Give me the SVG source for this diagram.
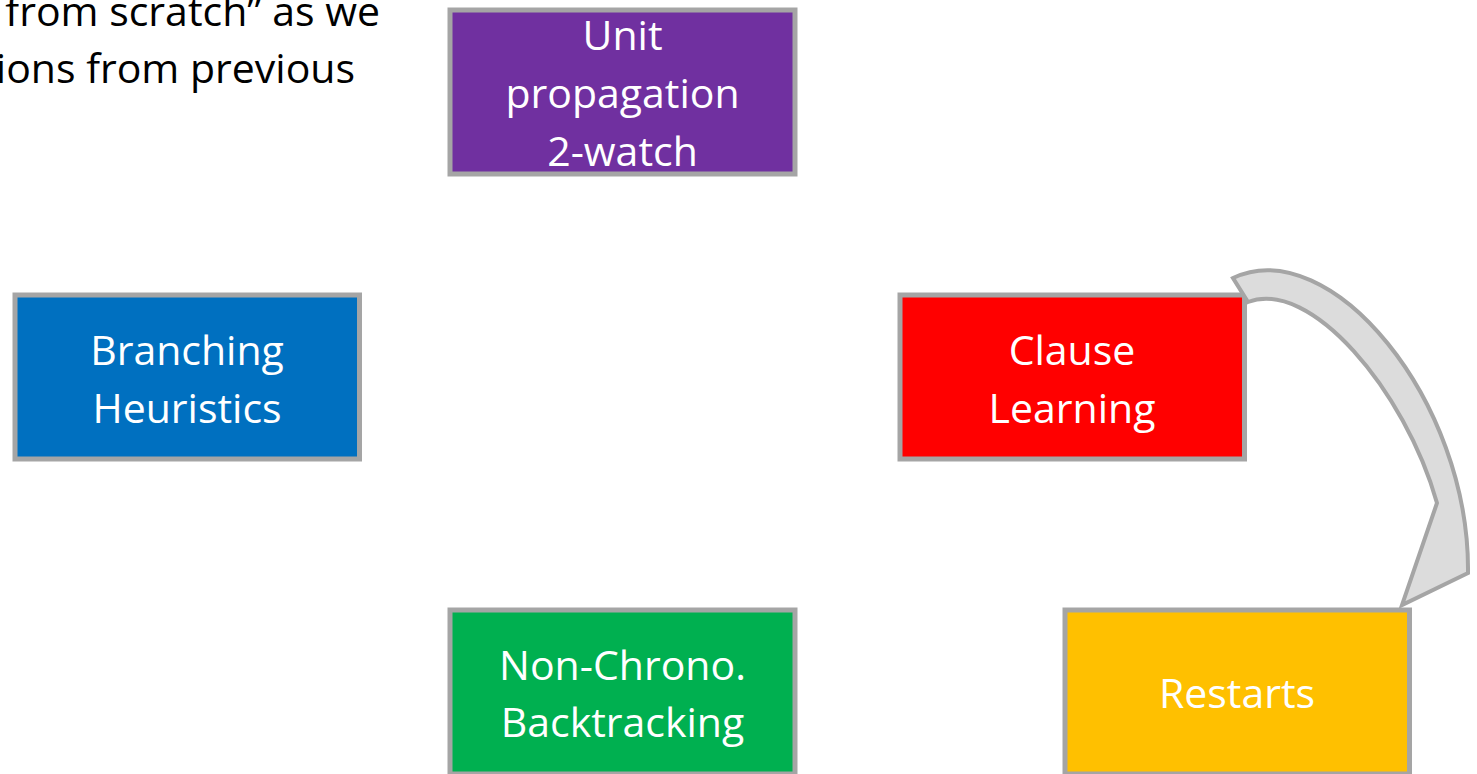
<svg xmlns="http://www.w3.org/2000/svg" width="1477" height="774" viewBox="0 0 1477 774">
  <style>
    .box { stroke: #A5A5A5; stroke-width: 5; }
    .lbl { font-family: "Open Sans", "Liberation Sans", sans-serif; font-size: 41px; fill: #FFFFFF; text-anchor: middle; }
    .body { font-family: "Open Sans", "Liberation Sans", sans-serif; font-size: 41px; fill: #000000; text-anchor: end; }
    .curved { fill: #DCDCDC; stroke: #A5A5A5; stroke-width: 4; stroke-linejoin: miter; }
  </style>
  <rect width="1477" height="774" fill="#FFFFFF"/>

  <!-- slide body text, partly outside the visible area -->
  <g id="body-text">
    <text class="body" x="380" y="26">from scratch” as we</text>
    <text class="body" x="355" y="83">ions from previous</text>
  </g>

  <g id="unit-propagation">
    <rect class="box" x="450" y="10" width="345" height="164" fill="#7030A0"/>
    <text class="lbl" x="622.5" y="50">Unit</text>
    <text class="lbl" x="622.5" y="108">propagation</text>
    <text class="lbl" x="622.5" y="166">2-watch</text>
  </g>

  <g id="branching-heuristics">
    <rect class="box" x="15" y="295" width="344.5" height="164" fill="#0070C0"/>
    <text class="lbl" x="187" y="365">Branching</text>
    <text class="lbl" x="187" y="423">Heuristics</text>
  </g>

  <g id="clause-learning">
    <rect class="box" x="900" y="295" width="344.5" height="164" fill="#FF0000"/>
    <text class="lbl" x="1072" y="365">Clause</text>
    <text class="lbl" x="1072" y="423">Learning</text>
  </g>

  <g id="non-chrono-backtracking">
    <rect class="box" x="450" y="610" width="345" height="164" fill="#00B050"/>
    <text class="lbl" x="622.5" y="680">Non-Chrono.</text>
    <text class="lbl" x="622.5" y="737">Backtracking</text>
  </g>

  <g id="restarts">
    <rect class="box" x="1065" y="610" width="344.5" height="164" fill="#FFC000"/>
    <text class="lbl" x="1237" y="708">Restarts</text>
  </g>

  <!-- curved block arrow from Clause Learning down to Restarts -->
  <g id="connectors">
    <path class="curved" d="M1233,278 C1330,232 1470,400 1468,573 L1402,605 L1437,503 C1405,390 1310,278 1248,302 Z"/>
  </g>
</svg>
